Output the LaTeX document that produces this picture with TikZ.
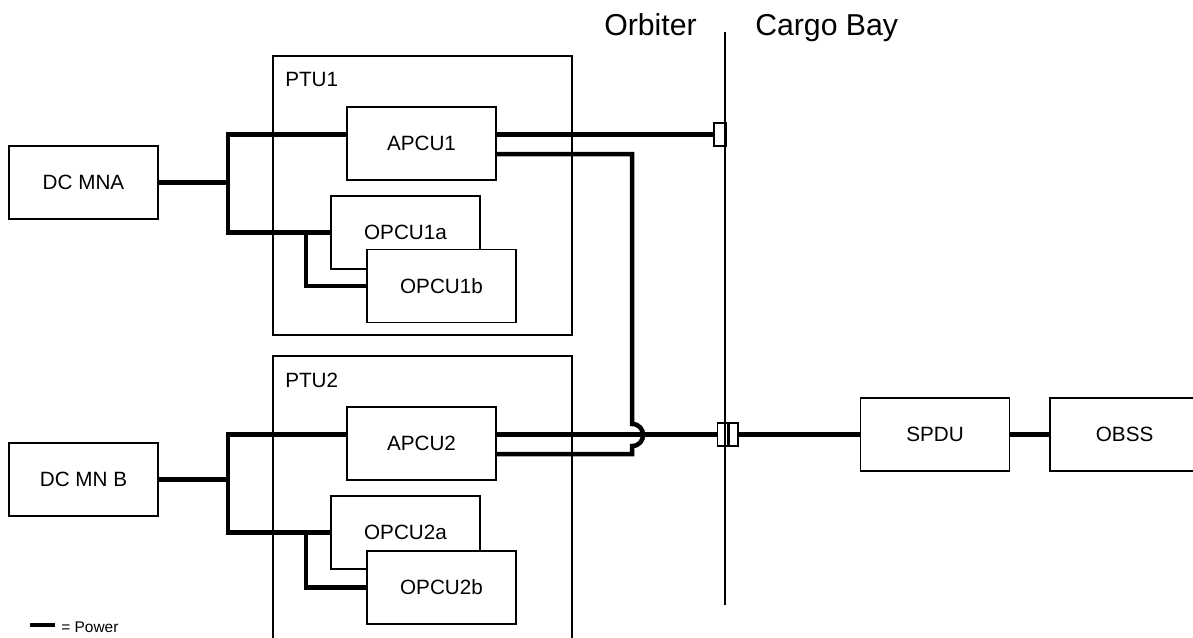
\documentclass[tikz,border=0pt]{standalone}
\usepackage{fontspec}
\setmainfont{Liberation Sans}
\usetikzlibrary{positioning}
\newcommand{\blkfont}{\fontsize{14.7}{17}\selectfont}
\newcommand{\hdrfont}{\fontsize{21.5}{25}\selectfont}
\newcommand{\legfont}{\fontsize{11}{13}\selectfont}

\begin{document}
\begin{tikzpicture}[
    x=0.025cm, y=-0.025cm,
    box/.style={rectangle, draw, fill=white, line width=1.1pt, inner sep=0pt,
                minimum width=3.725cm, minimum height=1.825cm, font=\blkfont},
    grp/.style={rectangle, draw, line width=1.1pt, inner sep=0pt, minimum width=7.475cm},
    con/.style={rectangle, draw, fill=white, line width=1.1pt, inner sep=0pt, minimum height=0.575cm},
    lbl/.style={inner sep=0pt, font=\blkfont},
    pwr/.style={line width=3.2pt},
    thinln/.style={line width=1.1pt}
  ]
  \useasboundingbox (0,0) rectangle (1193,638);
  \clip (0,0) rectangle (1193,638);

  % transfer units
  \node[grp, minimum height=6.975cm] (ptu1) at (422.5,195.5) {};
  \node[grp, minimum height=7.25cm] (ptu2) at (422.5,501) {};
  \node[lbl, anchor=base west] (ptu1lbl) at (285,87) {PTU1};
  \node[lbl, anchor=base west] (ptu2lbl) at (285,387) {PTU2};

  \node[box] (dcmna) at (83.5,182.5) {DC MNA};
  \node[box] (dcmnb) at (83.5,479.5) {DC MN B};
  \node[box] (apcu1) at (421.5,143.5) {APCU1};
  \node[box] (opcu1a) at (405.5,232.5) {OPCU1a};
  \node[box] (opcu1b) at (441.5,286) {OPCU1b};
  \node[box] (apcu2) at (421.5,443.5) {APCU2};
  \node[box] (opcu2a) at (405.5,532.5) {OPCU2a};
  \node[box] (opcu2b) at (441.5,587.5) {OPCU2b};
  \node[box] (spdu) at (935,434.5) {SPDU};
  \node[box, right=0.975cm of spdu] (obss) {OBSS};

  % connectors at the bulkhead
  \node[con, minimum width=0.3cm] (c1) at (720,134.5) {};
  \node[con, minimum width=0.25cm] (c2a) at (722.5,434.5) {};
  \node[con, minimum width=0.225cm, right=0pt of c2a] (c2b) {};

  \coordinate (top) at (725,32);
  \coordinate (bot) at (725,605);
  \draw[thinln] (top) -- (bot);
  \node[anchor=base east, inner sep=0pt, font=\hdrfont] (orb) at (697,35) {Orbiter};
  \node[anchor=base west, inner sep=0pt, font=\hdrfont] (cargo) at (755,35) {Cargo Bay};

  % power
  \coordinate (bus1) at (228,135);
  \coordinate (bus2) at (228,435);
  \coordinate (tap) at (306,0);
  \coordinate (x1) at (632,154);
  \coordinate (x2) at (632,454);
  \coordinate (h1) at (632,424);
  \coordinate (h2) at (632,446);

  \draw[pwr] (dcmna.east) -- (dcmna.east -| bus1);
  \draw[pwr] (apcu1.west |- c1) -| (opcu1a.west -| bus1) -- (opcu1a.west);
  \draw[pwr] (opcu1a.west -| tap) |- (opcu1b.west);
  \draw[pwr] (apcu1.east |- c1) -- (c1.west);
  \draw[pwr] (apcu1.east |- x1) -- (x1) -- (h1)
    .. controls +(14.7,0) and +(14.7,0) .. (h2) -- (x2) -- (apcu2.east |- x2);

  \draw[pwr] (dcmnb.east) -- (dcmnb.east -| bus2);
  \draw[pwr] (apcu2.west |- c2a) -| (opcu2a.west -| bus2) -- (opcu2a.west);
  \draw[pwr] (opcu2a.west -| tap) |- (opcu2b.west);
  \draw[pwr] (apcu2.east |- c2a) -- (c2a.west);
  \draw[pwr] (c2b.east) -- (spdu.west);
  \draw[pwr] (spdu.east) -- (obss.west);

  % legend
  \coordinate (l1) at (30,625);
  \coordinate (l2) at (55,625);
  \draw[pwr] (l1) -- (l2);
  \node[anchor=base west, inner sep=0pt, font=\legfont] (legtxt) at (61,632) {= Power};
\end{tikzpicture}
\end{document}
